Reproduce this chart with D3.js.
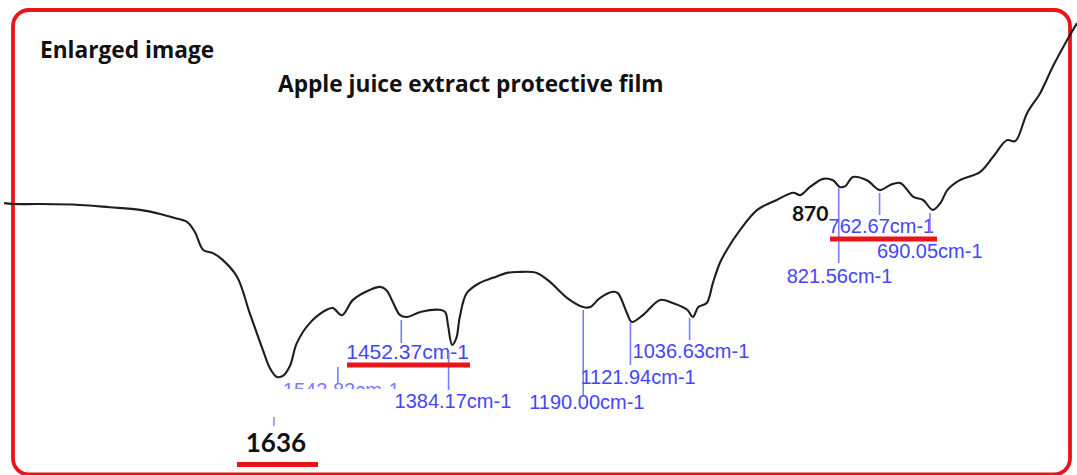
<!DOCTYPE html>
<html>
<head>
<meta charset="utf-8">
<script src="https://cdn.jsdelivr.net/npm/d3@7"></script>
<style>
    html, body { margin: 0; padding: 0; background: #fff; overflow: hidden; }
</style>
</head>
<body>
<div id="viz"></div>
<script>
const width = 1077;
const height = 475;

const boxColour = '#e8141c';
const lineColour = '#1e1e1e';
const labelColour = '#4646f8';
const tickColour = '#7c7cff';

// spectrum: wavenumber (cm-1) and transmittance (%)
const wavenumbers = [2025, 2012, 1974, 1916, 1873, 1829, 1800, 1779, 1761, 1750,
    1738, 1724, 1710, 1689, 1671, 1652, 1642, 1632, 1623, 1613,
    1603, 1584, 1560, 1551, 1538, 1522, 1498, 1483, 1474, 1466,
    1454, 1444, 1425, 1397, 1389, 1385, 1379, 1373, 1368, 1358,
    1339, 1320, 1300, 1285, 1257, 1238, 1213, 1190, 1180, 1166,
    1147, 1140, 1127, 1120, 1104, 1079, 1061, 1040, 1032, 1024,
    1012, 1003, 993, 983, 964, 939, 911, 887, 877, 863,
    844, 830, 820, 812, 801, 781, 762, 748, 733, 714,
    700, 686, 675, 665, 647, 618, 599, 579, 567, 550,
    531, 513, 492, 478];
const transmittance = [59.3, 59.1, 59.1, 58.9, 58.4, 57.8, 56.9, 56.0, 55.1, 52.9,
    48.9, 48.2, 46.7, 42.9, 34.9, 26.7, 22.7, 20.7, 20.9, 23.1,
    28.2, 32.7, 35.6, 36.0, 34.4, 37.8, 40.0, 40.7, 40.0, 37.8,
    34.4, 34.0, 35.1, 35.6, 35.1, 32.2, 27.8, 29.3, 34.0, 39.3,
    41.6, 42.7, 43.8, 44.0, 43.8, 41.8, 38.2, 36.2, 36.2, 38.2,
    39.6, 39.3, 34.9, 32.9, 34.4, 37.8, 37.1, 35.6, 34.0, 36.2,
    37.1, 41.6, 46.0, 48.9, 53.3, 57.8, 60.0, 61.6, 61.1, 62.9,
    64.7, 64.4, 62.9, 63.1, 65.1, 64.4, 62.2, 63.3, 63.8, 60.7,
    60.0, 57.8, 59.3, 62.2, 64.4, 66.2, 69.6, 73.3, 73.1, 79.3,
    83.8, 89.6, 95.6, 99.3];

// marked peaks
const peakWaves = [1543.82, 1452.37, 1384.17, 1190.00, 1121.94, 1036.63, 821.56, 762.67, 690.05];
const peakLabels = ['1543.82cm-1', '1452.37cm-1', '1384.17cm-1', '1190.00cm-1', '1121.94cm-1',
    '1036.63cm-1', '821.56cm-1', '762.67cm-1', '690.05cm-1'];

// bold call-outs
const calloutWaves = [1636, 870];
const calloutLabels = ['1636', '870'];
const underlined = ['1636', '1452.37cm-1', '762.67cm-1'];

const titleText = 'Apple juice extract protective film';
const cornerText = 'Enlarged image';

// where each peak label sits (layout only)
const peakLayout = [
    { dx: -55, y: 397, top: 367, bottom: 383, size: 20, faded: true },
    { dx: -55, y: 359, top: 320, bottom: 343, size: 21 },
    { dx: -54, y: 408, top: 352, bottom: 390, size: 20 },
    { dx: -54, y: 409, top: 310, bottom: 395, size: 20 },
    { dx: -50, y: 384, top: 323, bottom: 365, size: 20 },
    { dx: -57, y: 358, top: 318, bottom: 340, size: 20 },
    { dx: -52, y: 283, top: 188, bottom: 263, size: 20 },
    { dx: -51, y: 233, top: 193, bottom: 215, size: 20 },
    { dx: -53, y: 258, top: 213, bottom: 233, size: 20 }
];

const xScale = d3.scaleLinear()
    .domain([2031, 478])
    .range([0, width]);

const yScale = d3.scaleLinear()
    .domain([0, 100])
    .range([470, 20]);

const svg = d3.select('#viz').append('svg')
    .attr('width', width)
    .attr('height', height)
    .style('display', 'block');

// frame
svg.append('rect')
    .attr('x', 13)
    .attr('y', 10)
    .attr('width', 1057)
    .attr('height', 464.5)
    .attr('rx', 16)
    .attr('fill', 'none')
    .attr('stroke', boxColour)
    .attr('stroke-width', 3.8);

svg.append('text')
    .attr('x', 40)
    .attr('y', 58)
    .style('font-family', '"Open Sans", sans-serif')
    .style('font-weight', 'bold')
    .style('font-size', '22.7px')
    .attr('fill', '#111')
    .text(cornerText);

svg.append('text')
    .attr('x', 278)
    .attr('y', 92)
    .style('font-family', '"Open Sans", sans-serif')
    .style('font-weight', 'bold')
    .style('font-size', '22.7px')
    .attr('fill', '#111')
    .text(titleText);

// spectrum
const points = wavenumbers.map((w, i) => [w, transmittance[i]]);
const line = d3.line()
    .x(d => xScale(d[0]))
    .y(d => yScale(d[1]))
    .curve(d3.curveCatmullRom.alpha(0.5));

svg.append('path')
    .datum(points)
    .attr('d', line)
    .attr('fill', 'none')
    .attr('stroke', lineColour)
    .attr('stroke-width', 2.1)
    .attr('stroke-linejoin', 'round');

// peak ticks and labels
const clip = svg.append('clipPath').attr('id', 'fadeClip');
clip.append('rect').attr('x', 0).attr('y', 0).attr('width', width).attr('height', 389);

const peaks = svg.append('g').selectAll('g')
    .data(peakWaves.map((w, i) => ({ w: w, label: peakLabels[i], lay: peakLayout[i] })))
    .enter().append('g');

peaks.append('line')
    .attr('x1', d => xScale(d.w))
    .attr('x2', d => xScale(d.w))
    .attr('y1', d => d.lay.top)
    .attr('y2', d => d.lay.bottom)
    .attr('stroke', tickColour)
    .attr('stroke-width', 1.6);

peaks.append('text')
    .attr('x', d => xScale(d.w) + d.lay.dx)
    .attr('y', d => d.lay.y)
    .attr('clip-path', d => d.lay.faded ? 'url(#fadeClip)' : null)
    .style('font-family', '"Liberation Sans", Arial, sans-serif')
    .style('font-size', d => d.lay.size + 'px')
    .attr('fill', d => d.lay.faded ? '#7a7aff' : labelColour)
    .text(d => d.label);

// call-outs
svg.append('line')
    .attr('x1', xScale(calloutWaves[0]))
    .attr('x2', xScale(calloutWaves[0]))
    .attr('y1', 417)
    .attr('y2', 426)
    .attr('stroke', tickColour)
    .attr('stroke-width', 1.4);

const calloutLayout = [
    { dx: 2, y: 452, size: 26 },
    { dx: 5, y: 221, size: 21 }
];

svg.append('g').selectAll('text')
    .data(calloutWaves.map((w, i) => ({ w: w, label: calloutLabels[i], lay: calloutLayout[i] })))
    .enter().append('text')
    .attr('x', d => xScale(d.w) + d.lay.dx)
    .attr('y', d => d.lay.y)
    .attr('text-anchor', 'middle')
    .style('font-family', 'Lato, sans-serif')
    .style('font-weight', 'bold')
    .style('font-size', d => d.lay.size + 'px')
    .attr('fill', '#111')
    .text(d => d.label);

// red underlines
const underlineLayout = {
    '1636': { x0: 237, x1: 318, y: 464.5 },
    '1452.37cm-1': { x0: 347, x1: 470, y: 365 },
    '762.67cm-1': { x0: 830, x1: 937, y: 239 }
};

svg.append('g').selectAll('line')
    .data(underlined)
    .enter().append('line')
    .attr('x1', d => underlineLayout[d].x0)
    .attr('x2', d => underlineLayout[d].x1)
    .attr('y1', d => underlineLayout[d].y)
    .attr('y2', d => underlineLayout[d].y)
    .attr('stroke', boxColour)
    .attr('stroke-width', 5);
</script>
</body>
</html>
